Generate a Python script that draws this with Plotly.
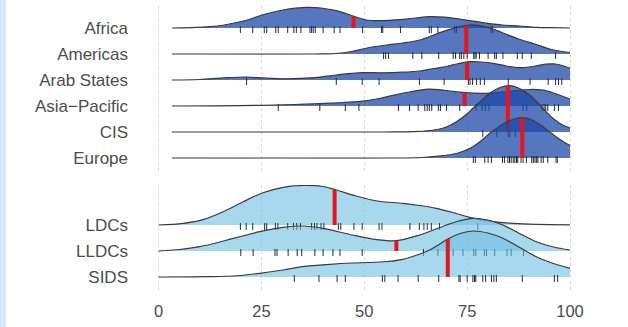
import numpy as np
import plotly.graph_objects as go

# ---------------- data ----------------
top_labels = ["Africa", "Americas", "Arab States", "Asia\u2212Pacific", "CIS", "Europe"]
bottom_labels = ["LDCs", "LLDCs", "SIDS"]
x_ticks = [0, 25, 50, 75, 100]

# density curves: x positions and relative heights
africa_x = [3.3, 8, 12.5, 16, 19, 22, 24.6, 27.5, 30.3, 33.3, 36.3, 39.5, 43.2, 46.5, 50.5, 53.8, 59.4, 62.5, 65.9, 69.5, 72.5, 75.6, 79.5, 83.6, 87.7, 91.8, 95.5, 100]
africa_d = [0, 0.4, 1.3, 3, 5.5, 8.5, 12.3, 15.5, 18, 19.8, 20.7, 20, 17.3, 13, 8, 7.3, 8.7, 10, 11.3, 10.8, 9.3, 7.3, 5, 3, 2, 0.7, 0.3, 0]
americas_x = [3.3, 38, 43, 47, 51.3, 55.4, 59.4, 63.5, 67.5, 71.6, 75.6, 80, 83.7, 87.5, 91.8, 95.5, 100]
americas_d = [0, 0, 0.5, 2.5, 6.5, 9, 11, 14, 20, 25.7, 29, 26.7, 21, 15, 9.5, 4.5, 1.5]
arab_x = [3.3, 10, 16, 21.4, 26, 31, 38, 43.2, 49.5, 54, 59.4, 63.5, 67, 70, 73, 75.6, 78.5, 81.3, 84.5, 87.7, 91, 94, 96.5, 98.5, 100]
arab_d = [0, 0.5, 2.2, 3, 1.8, 1.2, 2.4, 5, 7.3, 7.2, 7.8, 9, 11.5, 13.5, 16.5, 18.3, 18, 16.7, 14, 12.3, 13.5, 15.8, 16, 14, 11.7]
asia_x = [3.3, 15, 25, 33, 39.2, 45, 49, 53, 57, 61, 65.5, 68.5, 70.8, 74.4, 79.7, 85, 90.2, 93.5, 96, 98, 100]
asia_d = [0, 0.2, 0.7, 1.5, 2.3, 3.5, 4.7, 7, 10.7, 14, 16.9, 16.2, 15, 13.3, 12.7, 14.5, 16.5, 15.8, 13, 10, 7]
cis_x = [3.3, 55, 62, 66, 68.3, 70.5, 72.4, 74.5, 76.4, 78.5, 80.5, 83, 85.4, 87.5, 90.2, 92.2, 94.2, 96.2, 98.2, 100]
cis_d = [0, 0, 0.3, 1.5, 3, 6, 10.3, 16.5, 23.7, 31.5, 38.7, 44.5, 46.3, 44, 37, 29, 20.3, 12.5, 7, 4]
europe_x = [3.3, 58, 64, 68, 72.4, 74.5, 76.4, 78.5, 80.5, 82.5, 84.5, 86.5, 88.5, 90.5, 92.6, 94.6, 96.6, 98.5, 100]
europe_d = [0, 0, 0.5, 1.8, 4.5, 7.5, 11.3, 17.5, 24.7, 30.5, 35.7, 39, 40.3, 38.5, 33.7, 27.5, 21.3, 16, 12.5]
ldc_x = [0, 6, 11, 15.7, 20.6, 25.4, 30.3, 35.1, 40, 42.8, 48, 51.3, 54, 59.4, 63.5, 67.5, 71.5, 75.6, 79.5, 83.7, 90, 100]
ldc_d = [0, 1.7, 5.7, 13.3, 23.3, 32.3, 37.7, 39.5, 38.5, 35.5, 29, 25.5, 23.5, 21.7, 19.5, 16.7, 12.5, 7.7, 4.5, 2.3, 0.8, 0.2]
lldc_x = [0, 5, 10, 14, 18.2, 24.6, 30.3, 35, 40, 46.5, 52, 57.8, 63.5, 66.5, 70, 73, 76.4, 80, 83.7, 87.5, 91.8, 96, 100]
lldc_d = [0, 1.5, 4.3, 8, 12.7, 19.3, 23.7, 25, 22.7, 16.5, 12, 10.3, 16, 20.5, 26, 30, 32.7, 31, 26, 18, 9.3, 4, 1]
sids_x = [0, 12, 18.2, 24.6, 30.3, 35, 41.6, 47, 51.3, 55.5, 59.4, 62.5, 65.9, 68.2, 70.3, 73.3, 76.4, 80, 83.7, 87.8, 91.8, 96, 100]
sids_d = [0, 0.3, 1, 3.7, 7, 10.3, 12.7, 14, 14.5, 15.5, 17.7, 21.5, 27, 32.5, 38, 43.5, 46, 44, 38.7, 29.5, 20.3, 13.5, 8.7]

# individual country values (rug marks)
africa_pts = [19.9, 22.9, 25.7, 26.3, 28.5, 29.1, 31.4, 32.9, 33.5, 34.6, 36.8, 37.2, 37.6, 38.1, 40.0, 42.7, 44.1, 49.6, 54.2, 54.5, 58.8, 65.8, 66.3, 67.9, 72.0, 72.4, 80.8, 81.2]
americas_pts = [54.7, 55.2, 55.9, 61.8, 64.0, 68.1, 71.6, 72.2, 73.2, 73.6, 74.2, 75.0, 76.6, 76.9, 77.2, 78.0, 80.1, 81.7, 82.1, 83.7, 87.2, 88.4, 90.6, 96.5]
arab_pts = [21.4, 43.2, 49.5, 53.6, 63.4, 69.4, 75.3, 75.7, 76.3, 77.3, 78.2, 79.2, 85.0, 90.3, 94.7, 96.5, 97.2, 98.0]
asia_pts = [29.1, 39.2, 45.4, 48.7, 58.3, 61.0, 63.1, 64.7, 65.3, 65.8, 66.4, 68.0, 68.5, 70.0, 73.2, 77.2, 78.6, 79.4, 80.3, 88.6, 89.5, 93.2, 93.7, 94.1, 94.6, 96.2, 97.2]
cis_pts = [78.8, 82.2, 85.0, 85.4, 86.7]
europe_pts = [76.5, 77.0, 79.3, 80.1, 80.9, 83.6, 84.1, 84.9, 85.3, 85.7, 86.2, 86.6, 87.0, 87.3, 88.1, 88.6, 89.4, 90.7, 91.1, 91.5, 91.9, 92.2, 93.0, 93.5, 94.6, 96.6, 96.9]
ldc_pts = [19.9, 21.3, 22.9, 25.8, 26.3, 28.4, 29.0, 31.4, 32.8, 33.6, 34.5, 37.2, 37.9, 38.5, 39.5, 40.2, 43.7, 44.3, 47.5, 49.5, 53.6, 54.3, 61.1, 63.4, 64.5, 65.3, 66.3, 68.3, 77.6]
lldc_pts = [20.0, 23.0, 28.3, 28.8, 31.5, 33.7, 34.8, 38.0, 40.0, 42.4, 44.1, 49.5, 64.4, 67.9, 71.6, 74.0, 76.6, 77.1, 79.2, 79.7, 81.7, 84.7, 85.7, 88.7]
sids_pts = [33.0, 39.0, 43.4, 45.4, 54.4, 55.0, 58.2, 63.1, 68.1, 73.0, 73.3, 75.0, 76.4, 76.8, 77.1, 78.8, 79.5, 80.9, 81.5, 82.1, 88.4, 96.2, 97.0]

# median markers
top_medians = [47.4, 74.8, 75.0, 74.4, 84.9, 88.4]
bottom_medians = [42.8, 57.8, 70.3]

top_curves = [(africa_x, africa_d), (americas_x, americas_d), (arab_x, arab_d),
              (asia_x, asia_d), (cis_x, cis_d), (europe_x, europe_d)]
top_points = [africa_pts, americas_pts, arab_pts, asia_pts, cis_pts, europe_pts]
bottom_curves = [(ldc_x, ldc_d), (lldc_x, lldc_d), (sids_x, sids_d)]
bottom_points = [ldc_pts, lldc_pts, sids_pts]

# ---------------- styling / geometry ----------------
W, H = 628, 327
ML, MR, MT, MB = 155, 54, 6, 37
PW, PH = W - ML - MR, H - MT - MB
ROW_PX = 26.0
S = 1.0 / ROW_PX
TOP_FILL = "rgba(30,72,168,0.75)"
BOT_FILL = "rgba(110,190,227,0.6)"
LINE_COL = "#3a3a3a"
RUG_COL = "#2a2a2a"
MED_COL = "#e8141c"
FONT = "Liberation Sans, Arial, sans-serif"

fig = go.Figure()


def add_ridge(xa, ya, base, xs, ds, pts, med, fill):
    xs = np.asarray(xs, dtype=float)
    ds = np.asarray(ds, dtype=float)
    fig.add_trace(go.Scatter(x=[xs[0], xs[-1]], y=[base, base], mode="lines",
                             line=dict(width=0, color="rgba(0,0,0,0)"),
                             xaxis=xa, yaxis=ya, hoverinfo="skip", showlegend=False))
    fig.add_trace(go.Scatter(x=xs, y=base + ds * S, mode="lines",
                             line=dict(color=LINE_COL, width=1.2, shape="spline", smoothing=0.9),
                             fill="tonexty", fillcolor=fill,
                             xaxis=xa, yaxis=ya, hoverinfo="skip", showlegend=False))
    rx, ry = [], []
    for v in pts:
        rx += [v, v, None]
        ry += [base - 5.0 * S, base + 2.0 * S, None]
    fig.add_trace(go.Scatter(x=rx, y=ry, mode="lines", line=dict(color=RUG_COL, width=1),
                             xaxis=xa, yaxis=ya, hoverinfo="skip", showlegend=False))
    top = base + float(np.interp(med, xs, ds)) * S
    fig.add_trace(go.Scatter(x=[med, med], y=[base, top], mode="lines",
                             line=dict(color=MED_COL, width=4),
                             xaxis=xa, yaxis=ya, hoverinfo="skip", showlegend=False))


n_top = len(top_labels)
for i, ((xs, ds), pts, med) in enumerate(zip(top_curves, top_points, top_medians)):
    add_ridge("x", "y", n_top - 1 - i, xs, ds, pts, med, TOP_FILL)

n_bot = len(bottom_labels)
for i, ((xs, ds), pts, med) in enumerate(zip(bottom_curves, bottom_points, bottom_medians)):
    add_ridge("x2", "y2", n_bot - 1 - i, xs, ds, pts, med, BOT_FILL)

# panel pixel geometry
top_panel = (6, 173)     # px from top of figure
bot_panel = (185, 290)
top_base_px = 28         # Africa baseline px
bot_base_px = 225        # LDCs baseline px

def dom(p0, p1):
    return [(H - MB - p1) / PH, (H - MB - p0) / PH]

x_px0, x_px100 = 158.5, 570.0
ppu = (x_px100 - x_px0) / 100.0
xr = [(ML - x_px0) / ppu, 100 + (ML + PW - x_px100) / ppu]

y1_top = (n_top - 1) + (top_base_px - top_panel[0]) / ROW_PX
y1_bot = y1_top - (top_panel[1] - top_panel[0]) / ROW_PX
y2_top = (n_bot - 1) + (bot_base_px - bot_panel[0]) / ROW_PX
y2_bot = y2_top - (bot_panel[1] - bot_panel[0]) / ROW_PX

grid = dict(showgrid=True, gridcolor="#d9d9d9", gridwidth=1, griddash="dot",
            zeroline=False, showline=False, ticks="", tickvals=x_ticks, range=xr)
yax = dict(showgrid=False, zeroline=False, showline=False, ticks="",
           tickfont=dict(size=17, color="#4d4d4d", family=FONT), ticklabelstandoff=26)

fig.update_layout(
    width=W, height=H,
    margin=dict(l=ML, r=MR, t=MT, b=MB),
    paper_bgcolor="white", plot_bgcolor="white",
    font=dict(family=FONT),
    showlegend=False,
    xaxis=dict(**grid, anchor="y", domain=[0, 1], showticklabels=False),
    xaxis2=dict(**grid, anchor="y2", domain=[0, 1], showticklabels=True,
                ticktext=[str(t) for t in x_ticks],
                tickfont=dict(size=16.5, color="#4d4d4d", family=FONT), ticklabelstandoff=9),
    yaxis=dict(**yax, domain=dom(*top_panel), range=[y1_bot, y1_top],
               tickvals=list(range(n_top - 1, -1, -1)), ticktext=top_labels),
    yaxis2=dict(**yax, domain=dom(*bot_panel), range=[y2_bot, y2_top],
                tickvals=list(range(n_bot - 1, -1, -1)), ticktext=bottom_labels),
    shapes=[dict(type="rect", xref="paper", yref="paper",
                 x0=(0 - ML) / PW, x1=(6 - ML) / PW,
                 y0=-MB / PH, y1=(PH + MT) / PH,
                 fillcolor="#d5e9fc", line=dict(width=0), layer="below")],
)

fig.write_html("out.html")
